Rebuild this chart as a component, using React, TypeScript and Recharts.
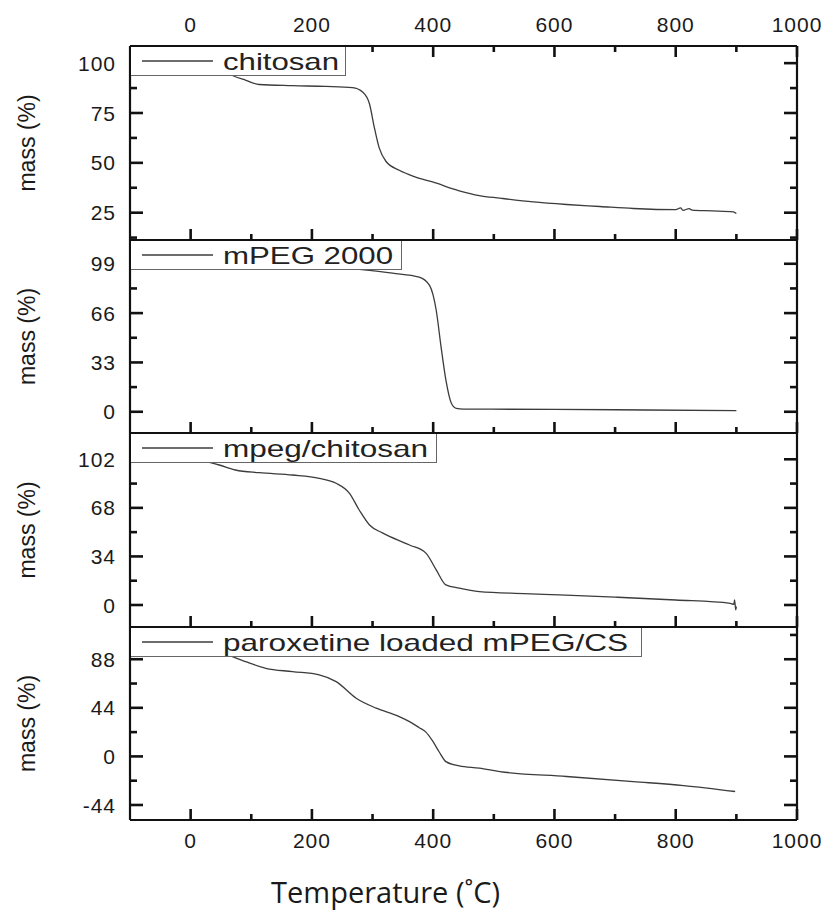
import React from 'react';
import { LineChart, Line, XAxis, YAxis, Legend, ReferenceLine } from 'recharts';

// chitosan
const chitosanTemp = [25, 50, 69, 91, 113, 168, 223, 267, 284, 295, 303, 311, 322, 344, 370, 399, 443, 476, 510, 565, 620, 675, 730, 800, 808, 812, 822, 827, 860, 895, 900];
const chitosanMass = [100, 97, 93.8, 91.4, 89.3, 88.7, 88.3, 87.7, 85.4, 79.5, 67.7, 57.5, 50.8, 46.3, 43, 40.4, 36, 33.6, 32.3, 30.4, 29.1, 28.1, 27.1, 26.5, 27.4, 26.2, 27.0, 26.3, 25.9, 25.4, 24.6];

// mPEG 2000
const mpegTemp = [25, 100, 200, 278, 333, 377, 394, 405, 413, 421, 430, 438, 450, 600, 750, 900];
const mpegMass = [100, 99.5, 98, 95.2, 92.7, 90.1, 84.5, 67.9, 43.4, 21.2, 5.7, 2.3, 1.8, 1.6, 1.2, 0.8];

// mpeg/chitosan
const blendTemp = [20, 47, 74, 113, 168, 212, 240, 262, 278, 295, 317, 361, 388, 405, 421, 443, 476, 550, 608, 700, 800, 890, 896, 897, 899, 900];
const blendMass = [101, 98, 94.5, 92.6, 91, 88.7, 85.2, 78.2, 66.5, 56, 50.3, 42, 36.3, 24.6, 14.1, 11.8, 9.4, 8, 7.1, 5.5, 3.5, 1.2, 0.5, 3.6, -3.4, -1];

// paroxetine loaded mPEG/CS
const loadedTemp = [25, 50, 69, 91, 124, 168, 212, 240, 273, 306, 344, 361, 377, 388, 399, 410, 421, 443, 476, 510, 620, 730, 813, 898];
const loadedMass = [100, 96, 90.4, 85.8, 79.8, 76.8, 73.8, 67.7, 52.7, 43.7, 36.1, 31.5, 26, 22, 14, 4, -4.7, -8.6, -10.6, -13.7, -18.2, -22.8, -26.4, -31.8];

const tempTicks = [0, 200, 400, 600, 800, 1000];
const tempMinor = [100, 300, 500, 700, 900];
const chitosanTicks = [25, 50, 75, 100];
const chitosanMinor = [12.5, 37.5, 62.5, 87.5];
const mpegTicks = [0, 33, 66, 99];
const mpegMinor = [16.5, 49.5, 82.5];
const blendTicks = [0, 34, 68, 102];
const blendMinor = [17, 51, 85];
const loadedTicks = [-44, 0, 44, 88];
const loadedMinor = [-22, 22, 66, 110];

const FONT = '"Liberation Sans", Arial, sans-serif';
const AXIS = '#111';
const CURVE = '#3c3c3c';
const PAD = 6;
const X_DOMAIN: [number, number] = [-100, 1000];
const PLOT_W = 667;

const toRows = (t: number[], m: number[]) => t.map((v, i) => ({ t: v, m: m[i] }));

type Side = 'left' | 'top' | 'bottom' | 'right';

// labels only; the tick marks are drawn as reference segments
const tickFactory = (side: Side, major: number[], labels: boolean) => (props: any) => {
  const x = Number(props.x);
  const y = Number(props.y);
  const v = props.payload.value;
  if (!labels || !major.includes(v)) return <g />;
  const ts = { fontFamily: FONT, fontSize: 21, fill: '#1a1a1a', letterSpacing: 1 };
  if (side === 'left') return <text x={x - 14} y={y} dy="0.36em" textAnchor="end" {...ts}>{v}</text>;
  if (side === 'top') return <text x={x} y={y - 14} textAnchor="middle" {...ts}>{v}</text>;
  if (side === 'bottom') return <text x={x} y={y + 28} textAnchor="middle" {...ts}>{v}</text>;
  return <g />;
};

const massLabel = (props: any) => {
  const vb = props.viewBox;
  const cy = vb.y + vb.height / 2;
  return (
    <text x={35} y={cy} transform={`rotate(-90, 35, ${cy})`} textAnchor="middle" fontFamily={FONT} fontSize={23} fill="#1a1a1a">
      mass (%)
    </text>
  );
};

const tempLabel = (props: any) => {
  const vb = props.viewBox;
  return (
    <text x={vb.x + vb.width / 2 - 78} y={vb.y + 83} textAnchor="middle" fontFamily='"Open Sans", sans-serif' fontSize={29} fill="#1a1a1a">
      Temperature (˚C)
    </text>
  );
};

const legendBox = (name: string, w: number, textLen: number) => () => (
  <div style={{ width: w, height: 29, background: '#fff', borderRight: '1.5px solid #666', borderBottom: '1.5px solid #666', boxSizing: 'border-box' }}>
    <svg width={w} height={28} style={{ display: 'block' }}>
      <line x1={11} x2={82} y1={14} y2={14} stroke={CURVE} strokeWidth={1.3} />
      <text x={92} y={23} fontFamily={FONT} fontSize={24} fill="#222" textLength={textLen} lengthAdjust="spacingAndGlyphs">
        {name}
      </text>
    </svg>
  </div>
);

type PanelProps = {
  top: number;
  height: number;
  rows: { t: number; m: number }[];
  domain: [number, number];
  major: number[];
  minor: number[];
  name: string;
  legendWidth: number;
  textLen: number;
  topAxis?: boolean;
  bottomLabels?: boolean;
};

function Panel(p: PanelProps) {
  const topH = p.topAxis ? 46 : 0;
  const botH = p.bottomLabels ? 91 : 1;
  const axisLine = { stroke: AXIS, strokeWidth: 2.2 };
  const yTicks = [...p.major, ...p.minor];
  const xTicks = [...tempTicks, ...tempMinor];
  const [y0, y1] = p.domain;
  // pixel lengths of tick marks turned into data units of each axis
  const perPxX = (X_DOMAIN[1] - X_DOMAIN[0]) / PLOT_W;
  const perPxY = (y1 - y0) / p.height;
  const seg = (a: { x: number; y: number }, b: { x: number; y: number }, k: string) => (
    <ReferenceLine key={k} xAxisId="b" yAxisId="l" segment={[a, b]} stroke={AXIS} strokeWidth={2.6} ifOverflow="visible" />
  );
  const marks: React.ReactNode[] = [];
  xTicks.forEach((v) => {
    const len = (tempTicks.includes(v) ? 11 : 6) * perPxY;
    marks.push(seg({ x: v, y: y0 }, { x: v, y: y0 + len }, `b${v}`));
    if (p.topAxis) marks.push(seg({ x: v, y: y1 }, { x: v, y: y1 - len }, `t${v}`));
  });
  yTicks.forEach((v) => {
    const len = (p.major.includes(v) ? 13 : 7) * perPxX;
    marks.push(seg({ x: X_DOMAIN[0], y: v }, { x: X_DOMAIN[0] + len, y: v }, `l${v}`));
    marks.push(seg({ x: X_DOMAIN[1], y: v }, { x: X_DOMAIN[1] - len, y: v }, `r${v}`));
  });
  return (
    <div style={{ position: 'absolute', left: 0, top: p.top - topH - PAD }}>
      <LineChart width={828} height={PAD + topH + p.height + botH + PAD} data={p.rows} margin={{ top: PAD, right: 30, bottom: PAD, left: 0 }}>
        <XAxis xAxisId="b" dataKey="t" type="number" domain={X_DOMAIN} allowDataOverflow ticks={xTicks} interval={0} tickSize={0} tickMargin={0} height={botH} axisLine={axisLine} tickLine={false} tick={tickFactory('bottom', tempTicks, !!p.bottomLabels)} label={p.bottomLabels ? tempLabel : undefined} />
        {p.topAxis && (
          <XAxis xAxisId="t" dataKey="t" orientation="top" type="number" domain={X_DOMAIN} allowDataOverflow ticks={xTicks} interval={0} tickSize={0} tickMargin={0} height={topH} axisLine={axisLine} tickLine={false} tick={tickFactory('top', tempTicks, true)} />
        )}
        <YAxis yAxisId="l" type="number" domain={p.domain} allowDataOverflow ticks={yTicks} interval={0} tickSize={0} tickMargin={0} width={130} axisLine={axisLine} tickLine={false} tick={tickFactory('left', p.major, true)} label={massLabel} />
        <YAxis yAxisId="r" orientation="right" type="number" domain={p.domain} allowDataOverflow ticks={yTicks} interval={0} tickSize={0} tickMargin={0} width={1} axisLine={axisLine} tickLine={false} tick={false} />
        {marks}
        <Line xAxisId="b" yAxisId="l" dataKey="m" type="monotone" stroke={CURVE} strokeWidth={1.3} dot={false} isAnimationActive={false} />
        <Legend layout="vertical" align="center" verticalAlign="middle" content={legendBox(p.name, p.legendWidth, p.textLen)} wrapperStyle={{ left: 131, top: PAD + topH + 1, width: 'auto', height: 'auto' }} />
      </LineChart>
    </div>
  );
}

export default function App() {
  return (
    <div style={{ position: 'absolute', left: 0, top: 0, width: 828, height: 911, background: '#fff' }}>
      <Panel top={46} height={194} rows={toRows(chitosanTemp, chitosanMass)} domain={[11.3, 108.6]} major={chitosanTicks} minor={chitosanMinor} name="chitosan" legendWidth={215} textLen={116} topAxis />
      <Panel top={240} height={193} rows={toRows(mpegTemp, mpegMass)} domain={[-14.2, 114.9]} major={mpegTicks} minor={mpegMinor} name="mPEG 2000" legendWidth={271} textLen={170} />
      <Panel top={433} height={194} rows={toRows(blendTemp, blendMass)} domain={[-15.4, 120.4]} major={blendTicks} minor={blendMinor} name="mpeg/chitosan" legendWidth={306} textLen={205} />
      <Panel top={627} height={193} rows={toRows(loadedTemp, loadedMass)} domain={[-57.6, 117.2]} major={loadedTicks} minor={loadedMinor} name="paroxetine loaded mPEG/CS" legendWidth={511} textLen={405} bottomLabels />
    </div>
  );
}
